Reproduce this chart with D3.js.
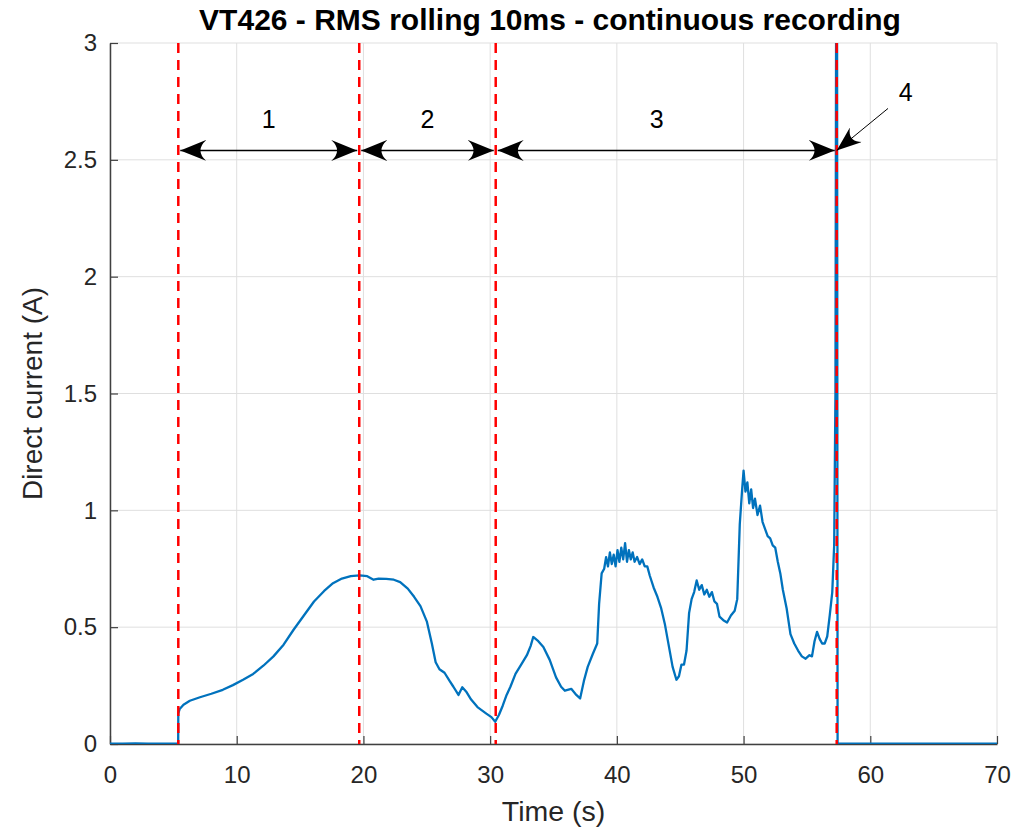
<!DOCTYPE html>
<meta charset="utf-8">
<script src="https://d3js.org/d3.v7.min.js"></script>
<style>
  body { margin: 0; background: #fff; }
  text { font-family: "Liberation Sans", Arial, Helvetica, sans-serif; }
</style>
<div id="my_chart"><svg></svg></div>
<script>
// RMS current (A) vs time (s)
var timeS = [0, 1, 2, 3, 4, 5, 5.38,
  5.39, 5.5, 5.8, 6.3, 7.1, 8.0, 8.9, 9.7, 10.5, 11.3, 12.1, 12.9, 13.7, 14.5, 15.3, 16.1, 16.9, 17.6, 18.3, 19.0, 19.7,
  20.3, 20.8, 21.2, 21.8, 22.4, 22.9, 23.5, 24.0, 24.5, 25.0, 25.4, 25.7, 26.0, 26.4, 26.8, 27.1, 27.5, 27.8, 28.1, 28.5,
  29.0, 29.7, 30.1, 30.4, 30.7, 31.0, 31.3, 31.6, 32.0, 32.4, 32.9, 33.2, 33.4, 33.8, 34.2, 34.7, 35.2, 35.6, 35.9, 36.4,
  36.8, 37.1, 37.4, 37.7, 38.1, 38.45, 38.6, 38.8, 39.0, 39.15, 39.3, 39.45, 39.6, 39.75, 39.9, 40.05, 40.2, 40.35, 40.5,
  40.65, 40.8, 40.95, 41.1, 41.25, 41.4, 41.6, 41.8, 42.0, 42.2, 42.4, 42.6, 42.9, 43.2, 43.5, 43.8, 44.1, 44.4, 44.7,
  44.9, 45.1, 45.3, 45.5, 45.7, 45.9, 46.1, 46.3, 46.5, 46.7, 46.9, 47.1, 47.3, 47.5, 47.7, 47.9, 48.1, 48.4, 48.7, 49.0,
  49.3, 49.5, 49.7, 49.9, 50.0, 50.15, 50.3, 50.45, 50.6, 50.75, 50.9, 51.1, 51.3, 51.5, 51.7, 51.9, 52.1, 52.3, 52.5,
  52.7, 52.9, 53.1, 53.4, 53.7, 54.0, 54.3, 54.6, 54.9, 55.2, 55.4, 55.6, 55.8, 56.0, 56.2, 56.4, 56.6, 56.8, 57.0,
  57.15, 57.25, 57.3, 57.38, 57.42, 60, 65, 70];
var currentA = [0.002, 0.001, 0.003, 0.001, 0.002, 0.001, 0.002,
  0.13, 0.15, 0.168, 0.185, 0.20, 0.215, 0.232, 0.252, 0.275, 0.30, 0.335, 0.375, 0.425, 0.49, 0.55, 0.61, 0.655, 0.688, 0.708, 0.718, 0.722,
  0.718, 0.703, 0.708, 0.707, 0.703, 0.693, 0.665, 0.63, 0.59, 0.525, 0.43, 0.35, 0.32, 0.305, 0.27, 0.245, 0.21, 0.243, 0.225, 0.19,
  0.158, 0.13, 0.115, 0.095, 0.125, 0.165, 0.21, 0.245, 0.30, 0.335, 0.38, 0.42, 0.458, 0.44, 0.415, 0.36, 0.285, 0.245, 0.228, 0.236,
  0.21, 0.195, 0.27, 0.33, 0.385, 0.43, 0.60, 0.73, 0.75, 0.80, 0.76, 0.82, 0.77, 0.81, 0.76, 0.83, 0.78, 0.84, 0.79,
  0.86, 0.78, 0.83, 0.79, 0.82, 0.78, 0.80, 0.77, 0.79, 0.76, 0.76, 0.72, 0.67, 0.63, 0.58, 0.51, 0.42, 0.33, 0.275,
  0.29, 0.34, 0.34, 0.40, 0.56, 0.62, 0.65, 0.70, 0.66, 0.68, 0.64, 0.66, 0.63, 0.65, 0.61, 0.60, 0.545, 0.53, 0.52, 0.55,
  0.57, 0.62, 0.94, 1.10, 1.17, 1.08, 1.12, 1.03, 1.09, 1.01, 1.05, 0.98, 1.02, 0.95, 0.92, 0.89, 0.88, 0.85, 0.84,
  0.78, 0.73, 0.66, 0.58, 0.47, 0.43, 0.40, 0.375, 0.365, 0.38, 0.375, 0.44, 0.48, 0.45, 0.43, 0.43, 0.46, 0.55, 0.65,
  0.85, 1.5, 3.0, 3.0, 0.002, 0.001, 0.002, 0.001];

var xTicks = [0, 10, 20, 30, 40, 50, 60, 70];
var yTicks = [0, 0.5, 1, 1.5, 2, 2.5, 3];

// phase boundaries (s) and annotation arrows
var phaseBounds = [5.39, 19.67, 30.44, 57.35];
var phaseLabels = ["1", "2", "3"];
var arrowLevel = 2.54;
var labelLevel = 2.665;
var pointerFrom = [61.4, 2.72];
var pointerLabel = "4";
var pointerLabelAt = [62.8, 2.78];

var margin = {top: 43, right: 39, bottom: 88, left: 110},
    width = 1036 - margin.left - margin.right,
    height = 832 - margin.top - margin.bottom;

var svg = d3.select("#my_chart").select("svg")
    .attr("width", 1036)
    .attr("height", 832);

var defs = svg.append("defs");
defs.append("clipPath").attr("id", "plotclip")
    .append("rect").attr("width", width).attr("height", height);

function headMarker(id, len, wid) {
    defs.append("marker")
        .attr("id", id)
        .attr("viewBox", (-len) + " " + (-wid / 2) + " " + len + " " + wid)
        .attr("refX", 0).attr("refY", 0)
        .attr("markerUnits", "userSpaceOnUse")
        .attr("markerWidth", len).attr("markerHeight", wid)
        .attr("orient", "auto-start-reverse")
        .append("path")
        .attr("d", "M0,0 L" + (-len) + "," + (-wid / 2) + " Q" + (-len * 0.55) + ",0 " + (-len) + "," + (wid / 2) + " Z")
        .attr("fill", "#000");
}
headMarker("head", 26, 21);
headMarker("head4", 25, 19);

var g = svg.append("g")
    .attr("transform", "translate(" + margin.left + "," + margin.top + ")");

var x = d3.scaleLinear().domain([0, 70]).range([0, width]);
var y = d3.scaleLinear().domain([0, 3]).range([height, 0]);

// grid
g.append("g").selectAll("line").data(xTicks).enter().append("line")
    .attr("x1", function(d) { return x(d); }).attr("x2", function(d) { return x(d); })
    .attr("y1", 0).attr("y2", height)
    .attr("stroke", "#dfdfdf").attr("stroke-width", 1);
g.append("g").selectAll("line").data(yTicks).enter().append("line")
    .attr("y1", function(d) { return y(d); }).attr("y2", function(d) { return y(d); })
    .attr("x1", 0).attr("x2", width)
    .attr("stroke", "#dfdfdf").attr("stroke-width", 1);

// axes (MATLAB style: ticks pointing inward)
var xAxis = g.append("g")
    .attr("transform", "translate(0," + height + ")")
    .call(d3.axisBottom(x).tickValues(xTicks).tickSizeInner(-8).tickSizeOuter(0).tickPadding(22));
var yAxis = g.append("g")
    .call(d3.axisLeft(y).tickValues(yTicks).tickSizeInner(-8).tickSizeOuter(0).tickPadding(13)
        .tickFormat(function(d) { return String(d); }));
[xAxis, yAxis].forEach(function(a) {
    a.select(".domain").attr("stroke", "#404040").attr("stroke-width", 1.5);
    a.selectAll(".tick line").attr("stroke", "#404040").attr("stroke-width", 1.2);
    a.selectAll(".tick text").attr("fill", "#262626").style("font-size", "24px")
        .style("font-family", "'Liberation Sans', Arial, sans-serif");
});
xAxis.selectAll(".tick text").attr("dy", "0.71em");

// data line
var data = timeS.map(function(t, i) { return {t: t, v: currentA[i]}; });
g.append("path")
    .datum(data)
    .attr("clip-path", "url(#plotclip)")
    .attr("fill", "none")
    .attr("stroke", "#0072BD")
    .attr("stroke-width", 2.3)
    .attr("stroke-linejoin", "round")
    .attr("d", d3.line()
        .x(function(d) { return x(d.t); })
        .y(function(d) { return y(d.v); }));

// phase boundaries
g.append("g").selectAll("line").data(phaseBounds).enter().append("line")
    .attr("x1", function(d) { return x(d); }).attr("x2", function(d) { return x(d); })
    .attr("y1", 0).attr("y2", height)
    .attr("stroke", "#ff0000").attr("stroke-width", 2.5)
    .attr("stroke-dasharray", "10,7");

// double arrows between boundaries
var spans = d3.pairs(phaseBounds);
g.append("g").selectAll("line").data(spans).enter().append("line")
    .attr("x1", function(d) { return x(d[0]) + 2; }).attr("x2", function(d) { return x(d[1]) - 2; })
    .attr("y1", y(arrowLevel)).attr("y2", y(arrowLevel))
    .attr("stroke", "#000").attr("stroke-width", 1.6)
    .attr("marker-start", "url(#head)")
    .attr("marker-end", "url(#head)");
g.append("g").selectAll("text").data(spans).enter().append("text")
    .attr("x", function(d, i) { return i == 2 ? x(d[0]) + 161 : x((d[0] + d[1]) / 2); })
    .attr("y", y(labelLevel))
    .attr("text-anchor", "middle")
    .attr("dominant-baseline", "middle")
    .style("font-size", "25px")
    .attr("fill", "#000")
    .text(function(d, i) { return phaseLabels[i]; });

// pointer to phase 4
g.append("line")
    .attr("x1", x(pointerFrom[0])).attr("y1", y(pointerFrom[1]))
    .attr("x2", x(phaseBounds[3])).attr("y2", y(arrowLevel))
    .attr("stroke", "#000").attr("stroke-width", 1)
    .attr("marker-end", "url(#head4)");
g.append("text")
    .attr("x", x(pointerLabelAt[0])).attr("y", y(pointerLabelAt[1]))
    .attr("text-anchor", "middle")
    .attr("dominant-baseline", "middle")
    .style("font-size", "25px")
    .text(pointerLabel);

// title and labels
svg.append("text")
    .attr("x", 550).attr("y", 30)
    .attr("text-anchor", "middle")
    .style("font-size", "30px").style("font-weight", "bold")
    .attr("fill", "#000")
    .text("VT426 - RMS rolling 10ms - continuous recording");
svg.append("text")
    .attr("x", margin.left + width / 2).attr("y", 821)
    .attr("text-anchor", "middle")
    .style("font-size", "28.5px").attr("fill", "#262626")
    .text("Time (s)");
svg.append("text")
    .attr("transform", "translate(42," + (margin.top + height / 2) + ") rotate(-90)")
    .attr("text-anchor", "middle")
    .style("font-size", "28px").attr("fill", "#262626")
    .text("Direct current (A)");
</script>
